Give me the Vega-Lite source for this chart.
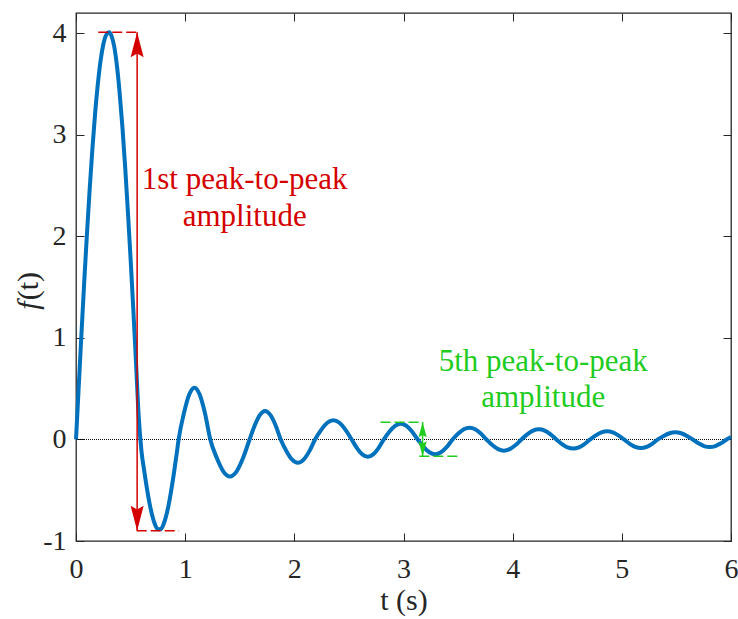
{
  "$schema": "https://vega.github.io/schema/vega-lite/v6.json",
  "width": 655,
  "height": 528,
  "autosize": {"type": "none"},
  "padding": {"left": 76, "top": 13, "right": 7, "bottom": 78},
  "background": "white",
  "config": {
    "view": {"stroke": "#262626", "strokeWidth": 1.3},
    "axis": {
      "grid": false,
      "domain": false,
      "labelFlush": false,
      "tickColor": "#262626",
      "tickWidth": 1,
      "tickSize": -8,
      "labelFont": "Liberation Serif",
      "labelFontSize": 28,
      "labelColor": "#262626",
      "titleFont": "Liberation Serif",
      "titleFontSize": 30,
      "titleFontWeight": "normal",
      "titleColor": "#262626"
    }
  },
  "datasets": {
    "curve": [
      {"t": 0, "f": 0}, {"t": 0.025, "f": 0.52}, {"t": 0.05, "f": 1.04}, {"t": 0.075, "f": 1.545},
      {"t": 0.1, "f": 2.02}, {"t": 0.125, "f": 2.46}, {"t": 0.15, "f": 2.86}, {"t": 0.175, "f": 3.21},
      {"t": 0.2, "f": 3.5}, {"t": 0.225, "f": 3.73}, {"t": 0.25, "f": 3.89}, {"t": 0.275, "f": 3.98},
      {"t": 0.305, "f": 4.01}, {"t": 0.325, "f": 3.975}, {"t": 0.35, "f": 3.87}, {"t": 0.375, "f": 3.68},
      {"t": 0.4, "f": 3.41}, {"t": 0.425, "f": 3.08}, {"t": 0.45, "f": 2.69}, {"t": 0.475, "f": 2.25},
      {"t": 0.5, "f": 1.78}, {"t": 0.525, "f": 1.28}, {"t": 0.55, "f": 0.75}, {"t": 0.575, "f": 0.214},
      {"t": 0.6, "f": -0.118}, {"t": 0.625, "f": -0.309}, {"t": 0.65, "f": -0.484}, {"t": 0.675, "f": -0.636},
      {"t": 0.7, "f": -0.757}, {"t": 0.725, "f": -0.841}, {"t": 0.75, "f": -0.885}, {"t": 0.775, "f": -0.885},
      {"t": 0.8, "f": -0.841}, {"t": 0.825, "f": -0.757}, {"t": 0.85, "f": -0.636}, {"t": 0.875, "f": -0.484},
      {"t": 0.9, "f": -0.309}, {"t": 0.925, "f": -0.118}, {"t": 0.94, "f": 0},
      {"t": 0.988, "f": 0.255}, {"t": 1.037, "f": 0.442}, {"t": 1.085, "f": 0.51}, {"t": 1.133, "f": 0.442}, {"t": 1.182, "f": 0.255},
      {"t": 1.23, "f": 0}, {"t": 1.29, "f": -0.183}, {"t": 1.35, "f": -0.316}, {"t": 1.41, "f": -0.365}, {"t": 1.47, "f": -0.316}, {"t": 1.53, "f": -0.183},
      {"t": 1.59, "f": 0}, {"t": 1.638, "f": 0.14}, {"t": 1.685, "f": 0.242}, {"t": 1.733, "f": 0.28}, {"t": 1.78, "f": 0.242}, {"t": 1.828, "f": 0.14},
      {"t": 1.875, "f": 0}, {"t": 1.928, "f": -0.115}, {"t": 1.98, "f": -0.199}, {"t": 2.033, "f": -0.23}, {"t": 2.085, "f": -0.199}, {"t": 2.138, "f": -0.115},
      {"t": 2.19, "f": 0}, {"t": 2.246, "f": 0.095}, {"t": 2.302, "f": 0.165}, {"t": 2.358, "f": 0.19}, {"t": 2.413, "f": 0.165}, {"t": 2.469, "f": 0.095},
      {"t": 2.525, "f": 0}, {"t": 2.574, "f": -0.085}, {"t": 2.623, "f": -0.147}, {"t": 2.673, "f": -0.17}, {"t": 2.722, "f": -0.147}, {"t": 2.771, "f": -0.085},
      {"t": 2.82, "f": 0}, {"t": 2.872, "f": 0.078}, {"t": 2.923, "f": 0.134}, {"t": 2.975, "f": 0.155}, {"t": 3.027, "f": 0.134}, {"t": 3.078, "f": 0.078},
      {"t": 3.13, "f": 0}, {"t": 3.183, "f": -0.073}, {"t": 3.237, "f": -0.126}, {"t": 3.29, "f": -0.145}, {"t": 3.343, "f": -0.126}, {"t": 3.397, "f": -0.073},
      {"t": 3.45, "f": 0}, {"t": 3.502, "f": 0.058}, {"t": 3.553, "f": 0.1}, {"t": 3.605, "f": 0.115}, {"t": 3.657, "f": 0.1}, {"t": 3.708, "f": 0.058},
      {"t": 3.76, "f": 0}, {"t": 3.813, "f": -0.055}, {"t": 3.867, "f": -0.095}, {"t": 3.92, "f": -0.11}, {"t": 3.973, "f": -0.095}, {"t": 4.027, "f": -0.055},
      {"t": 4.08, "f": 0}, {"t": 4.133, "f": 0.05}, {"t": 4.187, "f": 0.087}, {"t": 4.24, "f": 0.1}, {"t": 4.293, "f": 0.087}, {"t": 4.347, "f": 0.05},
      {"t": 4.4, "f": 0}, {"t": 4.452, "f": -0.045}, {"t": 4.503, "f": -0.078}, {"t": 4.555, "f": -0.09}, {"t": 4.607, "f": -0.078}, {"t": 4.658, "f": -0.045},
      {"t": 4.71, "f": 0}, {"t": 4.762, "f": 0.04}, {"t": 4.813, "f": 0.069}, {"t": 4.865, "f": 0.08}, {"t": 4.917, "f": 0.069}, {"t": 4.968, "f": 0.04},
      {"t": 5.02, "f": 0}, {"t": 5.072, "f": -0.043}, {"t": 5.123, "f": -0.074}, {"t": 5.175, "f": -0.085}, {"t": 5.227, "f": -0.074}, {"t": 5.278, "f": -0.043},
      {"t": 5.33, "f": 0}, {"t": 5.383, "f": 0.035}, {"t": 5.437, "f": 0.061}, {"t": 5.49, "f": 0.07}, {"t": 5.543, "f": 0.061}, {"t": 5.597, "f": 0.035},
      {"t": 5.65, "f": 0}, {"t": 5.702, "f": -0.038}, {"t": 5.753, "f": -0.065}, {"t": 5.805, "f": -0.075}, {"t": 5.857, "f": -0.065}, {"t": 5.908, "f": -0.038},
      {"t": 5.96, "f": 0}, {"t": 6.0, "f": 0.024}
    ],
    "zero": [{"t0": 0, "t1": 6, "f": 0}],
    "dashes": [
      {"group": "first", "t0": 0.204, "t1": 0.562, "f": 4.01},
      {"group": "first", "t0": 0.556, "t1": 0.944, "f": -0.9},
      {"group": "fifth", "t0": 2.79, "t1": 3.18, "f": 0.17},
      {"group": "fifth", "t0": 3.145, "t1": 3.52, "f": -0.165}
    ],
    "spans": [
      {"group": "first", "t": 0.56, "f0": 4.01, "f1": -0.9},
      {"group": "fifth", "t": 3.175, "f0": 0.17, "f1": -0.165}
    ],
    "heads": [
      {"group": "first", "dir": "up", "t": 0.56, "f": 4.01},
      {"group": "first", "dir": "down", "t": 0.56, "f": -0.9},
      {"group": "fifth", "dir": "up", "t": 3.175, "f": 0.17},
      {"group": "fifth", "dir": "down", "t": 3.175, "f": -0.165}
    ],
    "labels": [
      {"group": "first", "t": 1.545, "f": 2.465, "text": "1st peak-to-peak"},
      {"group": "first", "t": 1.545, "f": 2.1, "text": "amplitude"},
      {"group": "fifth", "t": 4.28, "f": 0.676, "text": "5th peak-to-peak"},
      {"group": "fifth", "t": 4.28, "f": 0.319, "text": "amplitude"}
    ],
    "ytitle": [
      {"part": "f", "t": -0.35, "f": 1.37, "text": "f"},
      {"part": "rest", "t": -0.35, "f": 1.37, "text": "(t)"}
    ]
  },
  "resolve": {"axis": {"x": "independent", "y": "independent"}},
  "layer": [
    {
      "data": {"name": "zero"},
      "mark": {"type": "rule", "color": "#000000", "strokeWidth": 1, "strokeDash": [1, 1]},
      "encoding": {
        "x": {"field": "t0", "type": "quantitative", "scale": {"domain": [0, 6], "nice": false, "zero": false},
              "axis": {"orient": "top", "labels": false, "title": null, "values": [0, 1, 2, 3, 4, 5, 6]}},
        "x2": {"field": "t1"},
        "y": {"field": "f", "type": "quantitative", "scale": {"domain": [-1, 4.2], "nice": false, "zero": false},
              "axis": {"orient": "right", "labels": false, "title": null, "values": [-1, 0, 1, 2, 3, 4]}}
      }
    },
    {
      "data": {"name": "curve"},
      "mark": {"type": "line", "color": "#0072BD", "strokeWidth": 4, "interpolate": "monotone"},
      "encoding": {
        "x": {"field": "t", "type": "quantitative",
              "axis": {"orient": "bottom", "title": "t (s)", "values": [0, 1, 2, 3, 4, 5, 6], "labelPadding": 22, "titlePadding": 2}},
        "y": {"field": "f", "type": "quantitative",
              "axis": {"orient": "left", "title": null, "values": [-1, 0, 1, 2, 3, 4], "labelExpr": "'' + datum.value", "labelPadding": 18}}
      }
    },
    {
      "data": {"name": "ytitle"},
      "transform": [{"filter": "datum.part == 'f'"}],
      "mark": {"type": "text", "color": "#262626", "font": "Liberation Serif", "fontStyle": "italic", "fontSize": 30, "angle": 270, "align": "right", "baseline": "alphabetic", "dx": -1},
      "encoding": {
        "x": {"field": "t", "type": "quantitative", "axis": null},
        "y": {"field": "f", "type": "quantitative", "axis": null},
        "text": {"field": "text"}
      }
    },
    {
      "data": {"name": "ytitle"},
      "transform": [{"filter": "datum.part == 'rest'"}],
      "mark": {"type": "text", "color": "#262626", "font": "Liberation Serif", "fontSize": 30, "angle": 270, "align": "left", "baseline": "alphabetic"},
      "encoding": {
        "x": {"field": "t", "type": "quantitative", "axis": null},
        "y": {"field": "f", "type": "quantitative", "axis": null},
        "text": {"field": "text"}
      }
    },
    {
      "data": {"name": "dashes"},
      "transform": [{"filter": "datum.group == 'first'"}],
      "mark": {"type": "rule", "color": "#d40000", "strokeWidth": 1.5, "strokeDash": [10, 4]},
      "encoding": {
        "x": {"field": "t0", "type": "quantitative", "axis": null},
        "x2": {"field": "t1"},
        "y": {"field": "f", "type": "quantitative", "axis": null}
      }
    },
    {
      "data": {"name": "dashes"},
      "transform": [{"filter": "datum.group == 'fifth'"}],
      "mark": {"type": "rule", "color": "#1fcc1f", "strokeWidth": 1.5, "strokeDash": [10, 4]},
      "encoding": {
        "x": {"field": "t0", "type": "quantitative", "axis": null},
        "x2": {"field": "t1"},
        "y": {"field": "f", "type": "quantitative", "axis": null}
      }
    },
    {
      "data": {"name": "spans"},
      "transform": [{"filter": "datum.group == 'first'"}],
      "mark": {"type": "rule", "color": "#d40000", "strokeWidth": 1.5},
      "encoding": {
        "x": {"field": "t", "type": "quantitative", "axis": null},
        "y": {"field": "f0", "type": "quantitative", "axis": null},
        "y2": {"field": "f1"}
      }
    },
    {
      "data": {"name": "spans"},
      "transform": [{"filter": "datum.group == 'fifth'"}],
      "mark": {"type": "rule", "color": "#1fcc1f", "strokeWidth": 1.5},
      "encoding": {
        "x": {"field": "t", "type": "quantitative", "axis": null},
        "y": {"field": "f0", "type": "quantitative", "axis": null},
        "y2": {"field": "f1"}
      }
    },
    {
      "data": {"name": "heads"},
      "transform": [{"filter": "datum.group == 'first' && datum.dir == 'up'"}],
      "mark": {"type": "point", "filled": true, "opacity": 1, "color": "#d40000", "strokeWidth": 0, "size": 625, "shape": "M0,0 L0.52,2 L0,1.7 L-0.52,2 Z"},
      "encoding": {
        "x": {"field": "t", "type": "quantitative", "axis": null},
        "y": {"field": "f", "type": "quantitative", "axis": null}
      }
    },
    {
      "data": {"name": "heads"},
      "transform": [{"filter": "datum.group == 'first' && datum.dir == 'down'"}],
      "mark": {"type": "point", "filled": true, "opacity": 1, "color": "#d40000", "strokeWidth": 0, "size": 625, "shape": "M0,0 L0.52,-2 L0,-1.7 L-0.52,-2 Z"},
      "encoding": {
        "x": {"field": "t", "type": "quantitative", "axis": null},
        "y": {"field": "f", "type": "quantitative", "axis": null}
      }
    },
    {
      "data": {"name": "heads"},
      "transform": [{"filter": "datum.group == 'fifth' && datum.dir == 'up'"}],
      "mark": {"type": "point", "filled": true, "opacity": 1, "color": "#1fcc1f", "strokeWidth": 0, "size": 225, "shape": "M0,0 L0.55,2 L0,1.7 L-0.55,2 Z"},
      "encoding": {
        "x": {"field": "t", "type": "quantitative", "axis": null},
        "y": {"field": "f", "type": "quantitative", "axis": null}
      }
    },
    {
      "data": {"name": "heads"},
      "transform": [{"filter": "datum.group == 'fifth' && datum.dir == 'down'"}],
      "mark": {"type": "point", "filled": true, "opacity": 1, "color": "#1fcc1f", "strokeWidth": 0, "size": 225, "shape": "M0,0 L0.55,-2 L0,-1.7 L-0.55,-2 Z"},
      "encoding": {
        "x": {"field": "t", "type": "quantitative", "axis": null},
        "y": {"field": "f", "type": "quantitative", "axis": null}
      }
    },
    {
      "data": {"name": "labels"},
      "transform": [{"filter": "datum.group == 'first'"}],
      "mark": {"type": "text", "color": "#d40000", "font": "Liberation Serif", "fontSize": 31, "align": "center", "baseline": "alphabetic"},
      "encoding": {
        "x": {"field": "t", "type": "quantitative", "axis": null},
        "y": {"field": "f", "type": "quantitative", "axis": null},
        "text": {"field": "text"}
      }
    },
    {
      "data": {"name": "labels"},
      "transform": [{"filter": "datum.group == 'fifth'"}],
      "mark": {"type": "text", "color": "#1fcc1f", "font": "Liberation Serif", "fontSize": 31, "align": "center", "baseline": "alphabetic"},
      "encoding": {
        "x": {"field": "t", "type": "quantitative", "axis": null},
        "y": {"field": "f", "type": "quantitative", "axis": null},
        "text": {"field": "text"}
      }
    }
  ]
}
